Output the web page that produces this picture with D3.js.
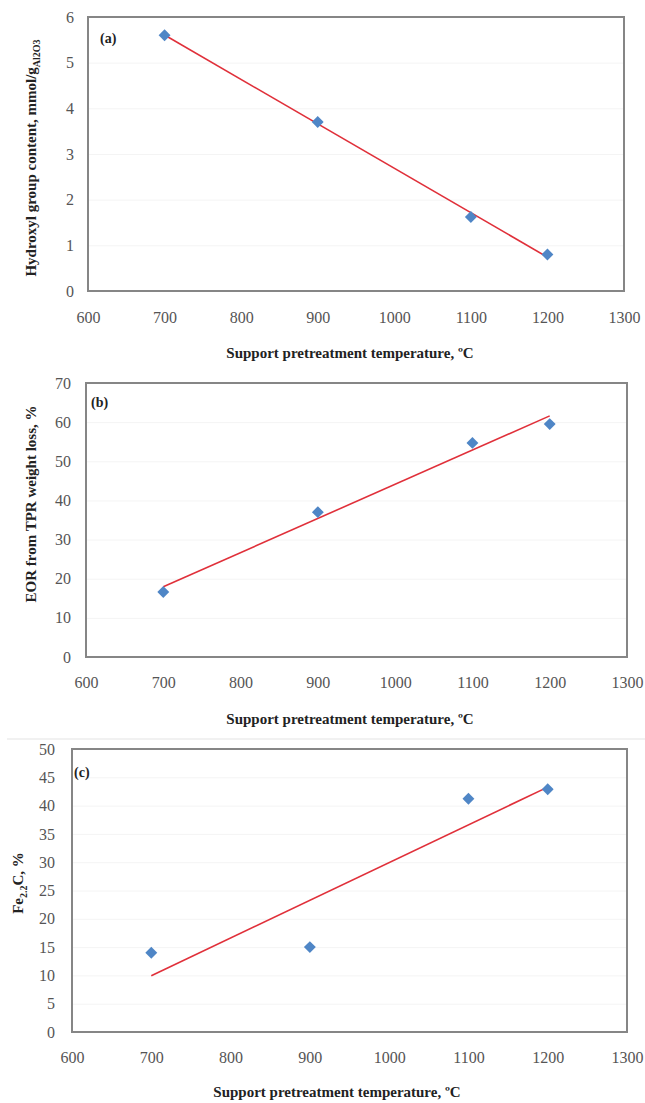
<!DOCTYPE html>
<html>
<head>
<meta charset="utf-8">
<script src="https://cdn.jsdelivr.net/npm/d3@7"></script>
<style>
  html, body { margin: 0; padding: 0; background: #fff; }
  svg { display: block; }
</style>
</head>
<body>
<svg id="chart" width="645" height="1103"></svg>
<script>
// Support pretreatment temperatures (°C) shared by all three panels
const temperatures = [700, 900, 1100, 1200];

// Panel (a): hydroxyl group content, mmol/g Al2O3
const hydroxylContent = [5.6, 3.7, 1.62, 0.8];
// Panel (b): EOR from TPR weight loss, %
const eorValues = [16.6, 37.0, 54.7, 59.5];
// Panel (c): Fe2.2C fraction, %
const fe22cValues = [14.0, 15.0, 41.2, 42.9];

// Tick values
const xTicks = [600, 700, 800, 900, 1000, 1100, 1200, 1300];
const yTicksA = [0, 1, 2, 3, 4, 5, 6];
const yTicksB = [0, 10, 20, 30, 40, 50, 60, 70];
const yTicksC = [0, 5, 10, 15, 20, 25, 30, 35, 40, 45, 50];

const xTitle = "Support pretreatment temperature, \u00baC";

const svg = d3.select("#chart");
const serif = "'Liberation Serif', 'Times New Roman', serif";
const plain = d3.format("d");

// Least-squares straight line through the points
function linearFit(xs, ys) {
  const mx = d3.mean(xs), my = d3.mean(ys);
  const sxy = d3.sum(xs, (x, i) => (x - mx) * (ys[i] - my));
  const sxx = d3.sum(xs, x => (x - mx) * (x - mx));
  const slope = sxy / sxx;
  return x => my + slope * (x - mx);
}

function drawPanel(cfg) {
  const { left, right, top, bottom } = cfg.box;
  const x = d3.scaleLinear().domain([600, 1300]).range([left, right]);
  const y = d3.scaleLinear().domain([0, cfg.yMax]).range([bottom, top]);
  const g = svg.append("g");

  // faint horizontal gridlines
  g.append("g")
    .attr("transform", `translate(${left},0)`)
    .call(d3.axisLeft(y).tickValues(cfg.yTicks).tickSize(-(right - left)).tickFormat(""))
    .call(s => s.select(".domain").remove())
    .call(s => s.selectAll("line").attr("stroke", "#f4f4f4").attr("stroke-width", 1));

  // plot frame
  g.append("rect")
    .attr("x", left).attr("y", top)
    .attr("width", right - left).attr("height", bottom - top)
    .attr("fill", "none").attr("stroke", "#868686").attr("stroke-width", 2);

  // y tick labels
  g.append("g")
    .attr("transform", `translate(${left},0)`)
    .call(d3.axisLeft(y).tickValues(cfg.yTicks).tickSize(0).tickPadding(cfg.yPad).tickFormat(plain))
    .call(s => s.select(".domain").remove())
    .call(s => s.selectAll("text").attr("font-family", serif).attr("font-size", 16).attr("fill", "#555"));

  // x tick labels
  g.append("g")
    .attr("transform", `translate(0,${bottom})`)
    .call(d3.axisBottom(x).tickValues(xTicks).tickSize(0).tickPadding(cfg.xPad).tickFormat(plain))
    .call(s => s.select(".domain").remove())
    .call(s => s.selectAll("text").attr("font-family", serif).attr("font-size", 16).attr("fill", "#555"));

  // linear trendline
  const fit = linearFit(temperatures, cfg.values);
  const x0 = d3.min(temperatures), x1 = d3.max(temperatures);
  g.append("line")
    .attr("x1", x(x0)).attr("y1", y(fit(x0)))
    .attr("x2", x(x1)).attr("y2", y(fit(x1)))
    .attr("stroke", "#e0303a").attr("stroke-width", 1.6);

  // diamond markers
  const diamond = d3.symbol().type(d3.symbolDiamond2).size(90);
  g.selectAll("path.pt")
    .data(temperatures.map((t, i) => [t, cfg.values[i]]))
    .join("path")
    .attr("class", "pt")
    .attr("d", diamond)
    .attr("transform", d => `translate(${x(d[0])},${y(d[1])})`)
    .attr("fill", "#4f86c6");

  // panel label
  g.append("text")
    .attr("x", cfg.labelPos[0]).attr("y", cfg.labelPos[1])
    .attr("font-family", serif).attr("font-size", 14).attr("font-weight", "bold")
    .attr("fill", "#222")
    .text(cfg.label);

  // x axis title
  g.append("text")
    .attr("x", cfg.xTitlePos[0]).attr("y", cfg.xTitlePos[1])
    .attr("text-anchor", "middle")
    .attr("font-family", serif).attr("font-size", 15).attr("font-weight", "bold")
    .attr("fill", "#222")
    .text(xTitle);

  // y axis title (rotated, with optional subscript parts)
  const yt = g.append("text")
    .attr("transform", `translate(${cfg.yTitlePos[0]},${cfg.yTitlePos[1]}) rotate(-90)`)
    .attr("text-anchor", "middle")
    .attr("font-family", serif).attr("font-size", 15).attr("font-weight", "bold")
    .attr("fill", "#222");
  let shifted = false;
  cfg.yTitle.forEach(part => {
    const ts = yt.append("tspan").text(part.t);
    if (part.sub) {
      ts.attr("font-size", 10).attr("dy", shifted ? 0 : 4);
      shifted = true;
    } else {
      ts.attr("dy", shifted ? -4 : 0);
      shifted = false;
    }
  });
}

drawPanel({
  box: { left: 88, right: 624, top: 17, bottom: 291 },
  yMax: 6, yTicks: yTicksA, values: hydroxylContent,
  yPad: 14, xPad: 21,
  label: "(a)", labelPos: [100, 43],
  xTitlePos: [350, 358],
  yTitlePos: [36, 158],
  yTitle: [{ t: "Hydroxyl group content, mmol/g" }, { t: "Al2O3", sub: true }]
});

drawPanel({
  box: { left: 86, right: 627, top: 383, bottom: 657 },
  yMax: 70, yTicks: yTicksB, values: eorValues,
  yPad: 15, xPad: 20,
  label: "(b)", labelPos: [91, 407],
  xTitlePos: [350, 724],
  yTitlePos: [36, 504],
  yTitle: [{ t: "EOR from TPR weight loss, %" }]
});

// thin rule between panels (b) and (c)
svg.append("line")
  .attr("x1", 7).attr("x2", 645).attr("y1", 739).attr("y2", 739)
  .attr("stroke", "#e3e3e3").attr("stroke-width", 1);

drawPanel({
  box: { left: 72, right: 627, top: 749, bottom: 1032 },
  yMax: 50, yTicks: yTicksC, values: fe22cValues,
  yPad: 17, xPad: 20,
  label: "(c)", labelPos: [74, 777],
  xTitlePos: [337, 1097],
  yTitlePos: [23, 883],
  yTitle: [{ t: "Fe" }, { t: "2.2", sub: true }, { t: "C, %" }]
});
</script>
</body>
</html>
